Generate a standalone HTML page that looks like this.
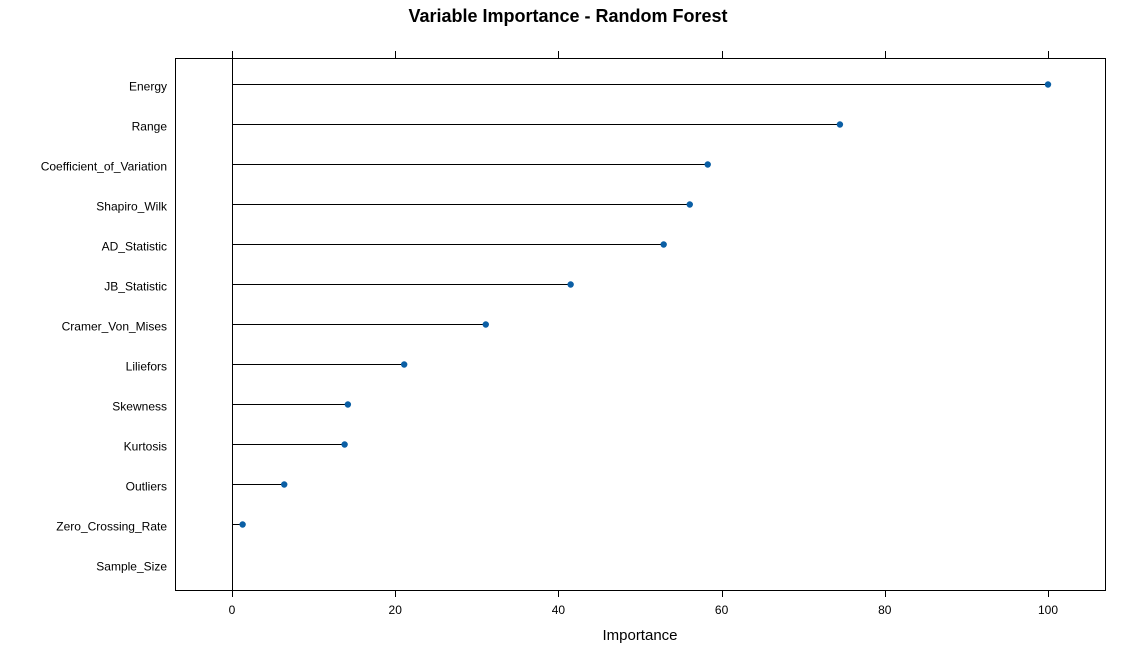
<!DOCTYPE html>
<html><head><meta charset="utf-8"><style>
body{margin:0;background:#fff;}
svg{display:block;font-family:"Liberation Sans",Arial,sans-serif;}
</style></head><body>
<svg id="chart" width="1137" height="664">
<text x="568" y="22" text-anchor="middle" font-size="18" font-weight="bold">Variable Importance - Random Forest</text>
<rect x="175.5" y="58.5" width="930" height="532" fill="none" stroke="#000"/>
<text x="640" y="640" text-anchor="middle" font-size="15">Importance</text>
<g id="marks"></g>
</svg>
<script>
const categories=["Energy","Range","Coefficient_of_Variation","Shapiro_Wilk","AD_Statistic","JB_Statistic","Cramer_Von_Mises","Liliefors","Skewness","Kurtosis","Outliers","Zero_Crossing_Rate","Sample_Size"];
const importance=[100,74.5,58.3,56.1,52.9,41.5,31.1,21.1,14.2,13.8,6.4,1.3,0];
const xTicks=[0,20,40,60,80,100];
const NS="http://www.w3.org/2000/svg";
const g=document.getElementById('marks');
function xs(v){return 232+v*8.16;}
function ys(i){return 84+i*40;}
function mk(tag,attrs){const e=document.createElementNS(NS,tag);for(const k in attrs)e.setAttribute(k,attrs[k]);g.appendChild(e);return e;}
let zl=mk('line',{x1:xs(0)+0.5,x2:xs(0)+0.5,y1:58,y2:590,stroke:'#000'});


xTicks.forEach(t=>{
  const x=Math.round(xs(t))+0.5;
  let a=mk('line',{x1:x,x2:x,y1:590,y2:597,stroke:'#000'});
  
  
  let b=mk('line',{x1:x,x2:x,y1:51,y2:58,stroke:'#000'});
  
  
  let l=mk('text',{x:xs(t),y:614,'text-anchor':'middle','font-size':12});
  l.textContent=t;
  
  
});
categories.forEach((c,i)=>{
  const y=ys(i)+0.5;
  let l=mk('text',{x:167,y:ys(i)+6.5,'text-anchor':'end','font-size':12});
  l.textContent=c;
  
  
  let s=mk('line',{x1:xs(0),x2:xs(importance[i]),y1:y,y2:y,stroke:'#000'});
  
  
  if(importance[i]>0){
    let d=mk('circle',{cx:xs(importance[i]),cy:y,r:3.2,fill:'#0b5fa5'});
    
    
  }
});
</script>
</body></html>
